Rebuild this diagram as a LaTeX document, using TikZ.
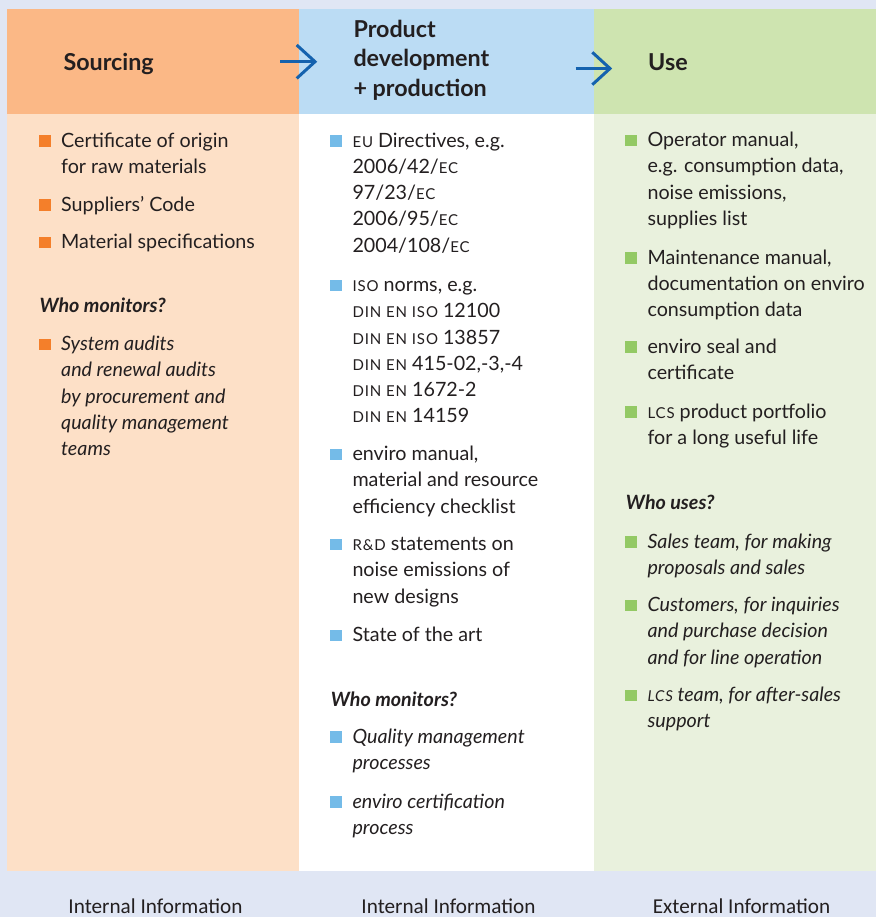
\documentclass[tikz,border=0pt]{standalone}
\usepackage{fontspec}
\setmainfont{Lato}
\newfontfamily\labfont{Carlito}
\definecolor{bgc}{HTML}{E0E6F4}
\definecolor{orhead}{HTML}{FBB886}
\definecolor{orbody}{HTML}{FDE0C7}
\definecolor{blhead}{HTML}{BBDCF4}
\definecolor{grhead}{HTML}{CEE4B0}
\definecolor{grbody}{HTML}{E9F1DD}
\definecolor{arrc}{HTML}{1462AE}
\definecolor{orsq}{HTML}{F47F2A}
\definecolor{blsq}{HTML}{74BBE8}
\definecolor{grsq}{HTML}{93C964}
\definecolor{txt}{HTML}{231F20}
\newcommand\smcap[1]{{\fontsize{15}{26.2}\selectfont\addfontfeature{LetterSpace=6}#1}}
\newcommand\tlines[1]{\begin{tabular}[t]{@{}l@{}}#1\end{tabular}}
\tikzset{
  itm/.style={anchor=base west, inner sep=0pt, text=txt, font=\fontsize{19.7}{26.2}\selectfont},
  itmi/.style={itm, font=\fontsize{19.7}{26.2}\selectfont\itshape},
  who/.style={itm, font=\fontsize{19.7}{26.2}\selectfont\bfseries\itshape},
  sqbox/.style={rectangle, inner sep=0pt, minimum size=11.5pt, draw=none},
  head/.style={anchor=base west, inner sep=0pt, text=txt, font=\fontsize{23.3}{29.2}\selectfont\bfseries},
  lab/.style={anchor=base, inner sep=0pt, text=txt, font=\labfont\fontsize{21.2}{24}\selectfont},
  arr/.style={draw=arrc, line width=3pt, line join=miter, line cap=butt}
}
\newcommand\bitem[6]{% name, square colour, square x, text x, baseline, text
  \node[sqbox, fill=#2] (#1s) at (#3,#5-6.25) {};
  \node[itm] (#1) at (#4,#5) {\tlines{#6}};}
\newcommand\bitemi[6]{%
  \node[sqbox, fill=#2] (#1s) at (#3,#5-6.25) {};
  \node[itmi] (#1) at (#4,#5) {\tlines{#6}};}
\begin{document}
\begin{tikzpicture}[x=1pt,y=-1pt]
\useasboundingbox (0,0) rectangle (876,917);
\fill[bgc] (0,0) rectangle (876,917);
% columns
\fill[orhead] (7,9) rectangle (299,114);
\fill[orbody] (7,114) rectangle (299,871);
\fill[blhead] (299,9) rectangle (594,114);
\fill[white] (299,114) rectangle (594,871);
\fill[grhead] (594,9) rectangle (876,114);
\fill[grbody] (594,114) rectangle (876,871);
% headers
\node[head] (h1) at (63.3,70.7) {Sourcing};
\node[head] (h2) at (353.3,37.7) {\tlines{Product\\development\\+ production}};
\node[head] (h3) at (648,70.7) {Use};
% arrows
\coordinate (a1s) at (280,61.7);
\coordinate (a1t) at (315,61.7);
\coordinate (a1u) at (296.7,45);
\coordinate (a1d) at (296.7,78.4);
\draw[arr] (a1s) -- (a1t);
\draw[arr] (a1u) -- (a1t) -- (a1d);
\coordinate (a2s) at (575.7,68.5);
\coordinate (a2t) at (610,68.5);
\coordinate (a2u) at (592.3,52.3);
\coordinate (a2d) at (592.3,84.7);
\draw[arr] (a2s) -- (a2t);
\draw[arr] (a2u) -- (a2t) -- (a2d);
% left column
\bitem{l1}{orsq}{45.2}{61}{147.5}{Certificate of origin\\for raw materials}
\bitem{l2}{orsq}{45.2}{61}{211.5}{Suppliers’ Code}
\bitem{l3}{orsq}{45.2}{61}{248.5}{Material specifications}
\node[who] (lw) at (39.3,312.7) {Who monitors?};
\bitemi{l4}{orsq}{45.2}{61}{350.7}{System audits\\and renewal audits\\by procurement and\\quality management\\teams}
% middle column
\bitem{m1}{blsq}{336.2}{352.3}{147.3}{\smcap{EU} Directives, e.g.\\2006/42/\smcap{EC}\\97/23/\smcap{EC}\\2006/95/\smcap{EC}\\2004/108/\smcap{EC}}
\bitem{m2}{blsq}{336.2}{352.3}{291.7}{\smcap{ISO} norms, e.g.\\\smcap{DIN EN ISO} 12100\\\smcap{DIN EN ISO} 13857\\\smcap{DIN EN} 415-02,-3,-4\\\smcap{DIN EN} 1672-2\\\smcap{DIN EN} 14159}
\bitem{m3}{blsq}{336.2}{352.3}{460.7}{enviro manual,\\material and resource\\efficiency checklist}
\bitem{m4}{blsq}{336.2}{352.3}{550.7}{\smcap{R\&D} statements on\\noise emissions of\\new designs}
\bitem{m5}{blsq}{336.2}{352.3}{641.7}{State of the art}
\node[who] (mw) at (330.7,706.7) {Who monitors?};
\bitemi{m6}{blsq}{336.2}{352.3}{743.3}{Quality management\\processes}
\bitemi{m7}{blsq}{336.2}{352.3}{808.3}{enviro certification\\process}
% right column
\bitem{r1}{grsq}{631.2}{647.3}{146.7}{Operator manual,\\e.g. consumption data,\\noise emissions,\\supplies list}
\bitem{r2}{grsq}{631.2}{647.3}{264}{Maintenance manual,\\documentation on enviro\\consumption data}
\bitem{r3}{grsq}{631.2}{647.3}{353.3}{enviro seal and\\certificate}
\bitem{r4}{grsq}{631.2}{647.3}{418.3}{\smcap{LCS} product portfolio\\for a long useful life}
\node[who] (rw) at (625.7,509.3) {Who uses?};
\bitemi{r5}{grsq}{631.2}{647.3}{548.3}{Sales team, for making\\proposals and sales}
\bitemi{r6}{grsq}{631.2}{647.3}{611.7}{Customers, for inquiries\\and purchase decision\\and for line operation}
\bitemi{r7}{grsq}{631.2}{647.3}{701.7}{\smcap{LCS} team, for after-sales\\support}
% bottom labels
\node[lab] (b1) at (155.5,913.3) {Internal Information};
\node[lab] (b2) at (448.5,913.3) {Internal Information};
\node[lab] (b3) at (741.5,913.3) {External Information};
\end{tikzpicture}
\end{document}
